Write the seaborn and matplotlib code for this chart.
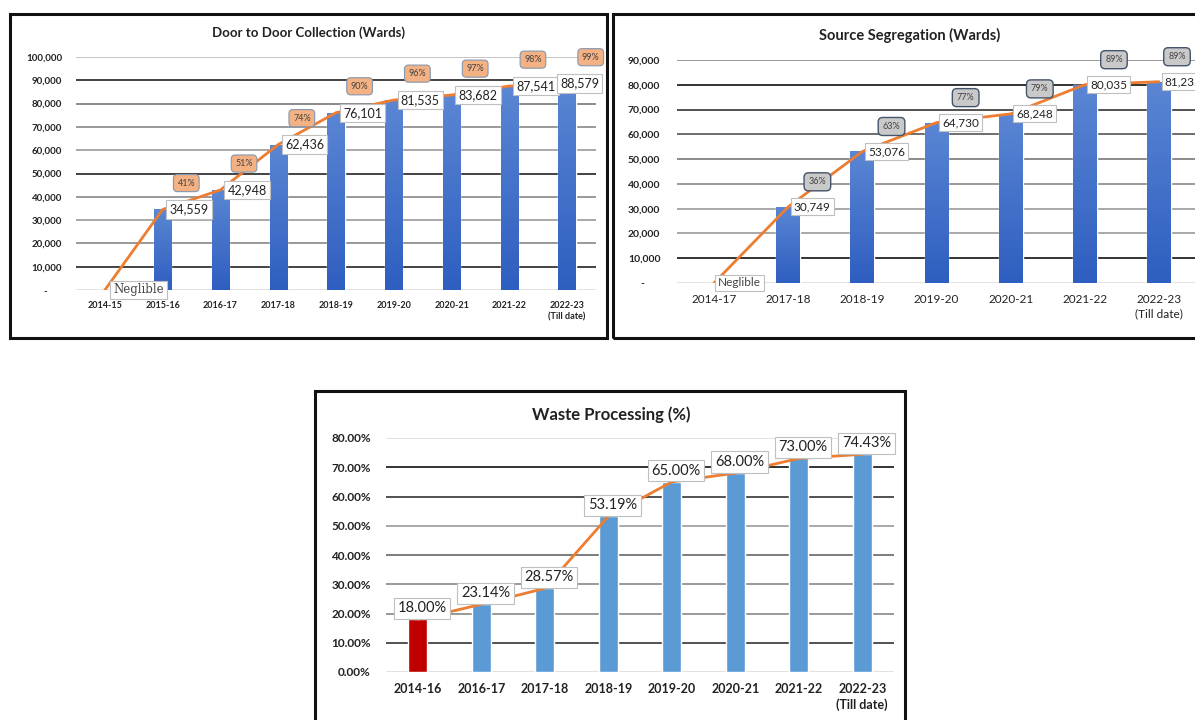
import numpy as np
import matplotlib
matplotlib.use("Agg")
import matplotlib.pyplot as plt
from matplotlib.colors import LinearSegmentedColormap
from matplotlib.patches import Rectangle
from matplotlib.ticker import FixedLocator, FuncFormatter
import seaborn as sns

# Door to Door Collection (Wards)
d2d_years = ["2014-15", "2015-16", "2016-17", "2017-18", "2018-19", "2019-20",
             "2020-21", "2021-22", "2022-23\n(Till date)"]
d2d_wards = [0, 34559, 42948, 62436, 76101, 81535, 83682, 87541, 88579]
d2d_pct = [None, 41, 51, 74, 90, 96, 97, 98, 99]

# Source Segregation (Wards)
seg_years = ["2014-17", "2017-18", "2018-19", "2019-20", "2020-21", "2021-22",
             "2022-23\n(Till date)"]
seg_wards = [0, 30749, 53076, 64730, 68248, 80035, 81235]
seg_pct = [None, 36, 63, 77, 79, 89, 89]

# Waste Processing (%)
wp_years = ["2014-16", "2016-17", "2017-18", "2018-19", "2019-20", "2020-21",
            "2021-22", "2022-23\n(Till date)"]
wp_pct = [18.00, 23.14, 28.57, 53.19, 65.00, 68.00, 73.00, 74.43]

W, H = 1195, 720
ORANGE = "#ED7D31"

sns.set_style("white")
plt.rcParams["font.family"] = ["Lato", "DejaVu Sans"]


def px(x0, y0, x1, y1):
    """pixel box (top-left origin) -> figure fraction rect"""
    return [x0 / W, 1 - y1 / H, (x1 - x0) / W, (y1 - y0) / H]


def gradientBars(ax, bottom, top):
    cmap = LinearSegmentedColormap.from_list("bars", [bottom, top])
    grad = np.linspace(0, 1, 64).reshape(-1, 1)
    for bar in ax.patches:
        h = bar.get_height()
        if h <= 0:
            continue
        x0, y0, w = bar.get_x(), bar.get_y(), bar.get_width()
        im = ax.imshow(grad, extent=[x0, x0 + w, y0, y0 + h], origin="lower",
                       aspect="auto", cmap=cmap, zorder=bar.get_zorder())
        im.set_clip_path(bar)
        bar.set_facecolor("none")


def styleAxis(ax, ticks, gridColors, fmt, ylim, n, ysize, xsize, xweight, ypad):
    # gridColors go bottom -> top, the scanned source has uneven line darkness
    for t, c in zip(ticks, gridColors):
        ax.axhline(t, color=c, lw=1.2, zorder=0)
    ax.set_xlim(-0.5, n - 0.5)
    ax.set_ylim(*ylim)
    ax.yaxis.set_major_locator(FixedLocator(ticks))
    ax.yaxis.set_major_formatter(FuncFormatter(fmt))
    ax.tick_params(axis="y", length=0, pad=ypad, labelsize=ysize)
    ax.tick_params(axis="x", length=0, pad=8, labelsize=xsize)
    for lab in ax.get_yticklabels():
        lab.set_fontweight("bold")
        lab.set_color("#222222")
    for lab in ax.get_xticklabels():
        lab.set_fontweight(xweight)
        lab.set_color("#222222")
        lab.set_linespacing(1.3)
    ax.set_xlabel("")
    ax.set_ylabel("")
    sns.despine(ax=ax, left=True, bottom=True)
    ax.patch.set_alpha(0)


def wardFmt(v, pos):
    return "-      " if v == 0 else f"{v:,.0f}"


fig = plt.figure(figsize=(W / 100, H / 100), dpi=100)

# panel frames
for x0, y0, x1, y1 in [(10, 14, 607, 338), (613, 14, 1215, 338), (315, 391, 905, 740)]:
    fig.patches.append(Rectangle((x0 / W, 1 - y1 / H), (x1 - x0) / W, (y1 - y0) / H,
                                 transform=fig.transFigure, fill=False,
                                 edgecolor="#111111", lw=2.2, zorder=0))

valBox = dict(boxstyle="square,pad=0.25", fc="white", ec="#BFBFBF", lw=0.8)

# ---------- Door to door ----------
ax1 = fig.add_axes(px(76, 57, 596, 290))
sns.barplot(x=d2d_years, y=d2d_wards, ax=ax1, width=0.3, color="#4472C4", zorder=2)
gradientBars(ax1, "#2E5EC0", "#5B86D4")
sns.lineplot(x=np.arange(len(d2d_wards)), y=d2d_wards, ax=ax1, color=ORANGE,
             lw=2, zorder=3, sort=False)
styleAxis(ax1, np.arange(0, 100001, 10000),
          ["#DDDDDD", "#222222", "#888888", "#999999", "#888888", "#222222",
           "#999999", "#888888", "#777777", "#222222", "#BBBBBB"],
          wardFmt, (0, 100000), len(d2d_years), 7, 6.5, "bold", 10)
for i, (v, p) in enumerate(zip(d2d_wards, d2d_pct)):
    if v == 0:
        ax1.annotate("Neglible", (i, 0), xytext=(6, 0), textcoords="offset points",
                     ha="left", va="center", fontsize=8.5, color="#444444",
                     family="DejaVu Serif", bbox=valBox, zorder=5, annotation_clip=False)
        continue
    dx = -5 if i == len(d2d_wards) - 1 else 5
    ax1.annotate(f"{v:,}", (i, v), xytext=(dx, 0), textcoords="offset points",
                 ha="left", va="center", fontsize=9, color="#222222",
                 bbox=valBox, zorder=5, annotation_clip=False)
    ax1.annotate(f"{p}%", (i, v), xytext=(17, 19), textcoords="offset points",
                 ha="center", va="center", fontsize=6.5, color="#444444",
                 bbox=dict(boxstyle="round,pad=0.45", fc="#F4B183", ec="#8497B0", lw=0.8),
                 zorder=6, annotation_clip=False)
fig.text(308 / W, 1 - 33 / H, "Door to Door Collection (Wards)", ha="center", va="center",
         fontsize=9.5, fontweight="bold", color="#222222")

# ---------- Source segregation ----------
ax2 = fig.add_axes(px(677, 60, 1196, 283))
sns.barplot(x=seg_years, y=seg_wards, ax=ax2, width=0.32, color="#4472C4", zorder=2)
gradientBars(ax2, "#2E5EC0", "#5B86D4")
sns.lineplot(x=np.arange(len(seg_wards)), y=seg_wards, ax=ax2, color=ORANGE,
             lw=2, zorder=3, sort=False)
styleAxis(ax2, np.arange(0, 90001, 10000),
          ["#DDDDDD", "#111111", "#999999", "#999999", "#888888", "#777777",
           "#555555", "#333333", "#111111", "#888888"],
          wardFmt, (0, 90000), len(seg_years), 7.5, 8.5, "normal", 12)
for i, (v, p) in enumerate(zip(seg_wards, seg_pct)):
    if v == 0:
        ax2.annotate("Neglible", (i, 0), xytext=(3, 0), textcoords="offset points",
                     ha="left", va="center", fontsize=8.5, color="#444444",
                     bbox=valBox, zorder=5, annotation_clip=False)
        continue
    ax2.annotate(f"{v:,}", (i, v), xytext=(4, 0), textcoords="offset points",
                 ha="left", va="center", fontsize=8.5, color="#222222",
                 bbox=valBox, zorder=5, annotation_clip=False)
    dx = 13 if i == len(seg_wards) - 1 else 21
    ax2.annotate(f"{p}%", (i, v), xytext=(dx, 18), textcoords="offset points",
                 ha="center", va="center", fontsize=6.5, color="#444444",
                 bbox=dict(boxstyle="round,pad=0.5", fc="#C9C9C9", ec="#44546A", lw=1),
                 zorder=6, annotation_clip=False)
fig.text(910 / W, 1 - 35 / H, "Source Segregation (Wards)", ha="center", va="center",
         fontsize=10.5, fontweight="bold", color="#222222")

# ---------- Waste processing ----------
ax3 = fig.add_axes(px(386, 438, 894, 672))
wp_colors = ["#C00000"] + ["#5B9BD5"] * (len(wp_pct) - 1)
sns.barplot(x=wp_years, y=wp_pct, ax=ax3, width=0.3, hue=wp_years,
            palette=wp_colors, legend=False, saturation=1, zorder=2)
sns.lineplot(x=np.arange(len(wp_pct)), y=wp_pct, ax=ax3, color=ORANGE,
             lw=2, zorder=3, sort=False)
styleAxis(ax3, np.arange(0, 81, 10),
          ["#DDDDDD", "#333333", "#888888", "#888888", "#666666", "#999999",
           "#333333", "#111111", "#DDDDDD"],
          lambda v, pos: f"{v:.2f}%", (0, 80), len(wp_years), 8.5, 9, "bold", 11)
for i, v in enumerate(wp_pct):
    ax3.annotate(f"{v:.2f}%", (i, v), xytext=(3, 8), textcoords="offset points",
                 ha="center", va="center", fontsize=10.5, color="#222222",
                 bbox=valBox, zorder=5, annotation_clip=False)
fig.text(611 / W, 1 - 415 / H, "Waste Processing (%)", ha="center", va="center",
         fontsize=12, fontweight="bold", color="#222222")

fig.savefig("out.png", dpi=100)
